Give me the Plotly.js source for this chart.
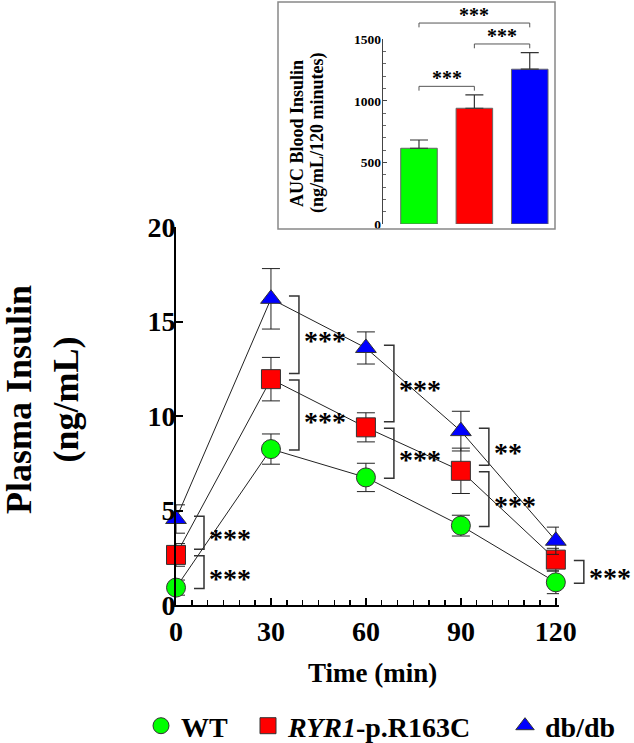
<!DOCTYPE html>
<html>
<head>
<meta charset="utf-8">
<script src="https://cdn.plot.ly/plotly-3.0.1.min.js"></script>
<style>html,body{margin:0;padding:0;background:#fff;}#chart{width:634px;height:743px;}</style>
</head>
<body>
<div id="chart"></div>
<script>
// ---------------- data ----------------
const timePoints = [0, 30, 60, 90, 120];

const wtMean   = [0.92, 8.25, 6.75, 4.2, 1.2];
const wtSem    = [0.4, 0.8, 0.75, 0.55, 0.6];
const ryr1Mean = [2.65, 11.95, 9.4, 7.1, 2.4];
const ryr1Sem  = [0.6, 1.15, 0.77, 1.2, 0.6];
const dbMean   = [4.55, 16.2, 13.6, 9.2, 3.4];
const dbSem    = [0.75, 1.6, 0.85, 1.05, 0.72];

const groupNames = ['WT', '<i>RYR1</i>-p.R163C', 'db/db'];

const aucGroups = ['WT', 'RYR1-p.R163C', 'db/db'];
const aucMean   = [615, 940, 1257];
const aucSem    = [67, 108, 135];

const xTicks = [0, 30, 60, 90, 120];
const yTicks = [0, 5, 10, 15, 20];
const aucTicks = [0, 500, 1000, 1500];

// significance comparisons (time course)
const comparisons = [
  {t: 0,   hi: 'db',   lo: 'ryr1', label: '***', pos: 'upper'},
  {t: 0,   hi: 'ryr1', lo: 'wt',   label: '***', pos: 'lower'},
  {t: 30,  hi: 'db',   lo: 'ryr1', label: '***', pos: 'upper'},
  {t: 30,  hi: 'ryr1', lo: 'wt',   label: '***', pos: 'lower'},
  {t: 60,  hi: 'db',   lo: 'ryr1', label: '***', pos: 'upper'},
  {t: 60,  hi: 'ryr1', lo: 'wt',   label: '***', pos: 'lower'},
  {t: 90,  hi: 'db',   lo: 'ryr1', label: '**',  pos: 'upper'},
  {t: 90,  hi: 'ryr1', lo: 'wt',   label: '***', pos: 'lower'},
  {t: 120, hi: 'ryr1', lo: 'wt',   label: '***', pos: 'lower'}
];
// significance comparisons (AUC inset)
const aucComparisons = [
  {a: 0, b: 1, label: '***', level: 0},
  {a: 1, b: 2, label: '***', level: 0},
  {a: 0, b: 2, label: '***', level: 1}
];

// ---------------- style ----------------
const FONT = 'Liberation Serif, Times New Roman, serif';
const GREEN = '#00ff00', RED = '#ff0000', BLUE = '#0000ff';
const W = 634, H = 743;
const mainX = [176 / W, 559 / W], mainY = [(H - 605) / H, (H - 227) / H];
const XR = [0, 121], YR = [0, 20];
const insX = [383 / W, 553 / W], insY = [(H - 224) / H, (H - 39.3) / H];
const X2R = [-0.65, 2.42], Y2R = [0, 1500];
const mainWpx = (mainX[1] - mainX[0]) * W;

const series = {
  wt: {mean: wtMean, sem: wtSem},
  ryr1: {mean: ryr1Mean, sem: ryr1Sem},
  db: {mean: dbMean, sem: dbSem}
};

function xd(t) { return (t - XR[0]) / (XR[1] - XR[0]); }
function yd(v) { return (v - YR[0]) / (YR[1] - YR[0]); }
function x2d(i) { return (i - X2R[0]) / (X2R[1] - X2R[0]); }
function y2d(v) { return (v - Y2R[0]) / (Y2R[1] - Y2R[0]); }

const markerLine = {color: '#333', width: 1};
const errStyle = {type: 'data', color: '#222', thickness: 1, width: 9};

function lineTrace(name, x, y, err, symbol, color, size) {
  return {
    type: 'scatter', mode: 'lines+markers', x: x, y: y, name: name,
    xaxis: 'x', yaxis: 'y', showlegend: false, cliponaxis: false,
    line: {color: '#222', width: 1},
    marker: {symbol: symbol, color: color, size: size, line: markerLine},
    error_y: Object.assign({array: err}, errStyle)
  };
}
function legendTrace(name, symbol, color, size, legendId) {
  return {
    type: 'scatter', mode: 'markers', x: [null], y: [null], name: name,
    xaxis: 'x', yaxis: 'y', legend: legendId, showlegend: true,
    marker: {symbol: symbol, color: color, size: size, line: markerLine}
  };
}

const traces = [
  lineTrace(groupNames[0], timePoints, wtMean, wtSem, 'circle', GREEN, 19),
  lineTrace(groupNames[1], timePoints, ryr1Mean, ryr1Sem, 'square', RED, 19),
  lineTrace(groupNames[2], timePoints, dbMean, dbSem, 'triangle-up', BLUE, 18),
  legendTrace(groupNames[0], 'circle', GREEN, 19, 'legend'),
  legendTrace(groupNames[1], 'square', RED, 19, 'legend2'),
  legendTrace(groupNames[2], 'triangle-up', BLUE, 18, 'legend3'),
  {
    type: 'bar', x: aucGroups, y: aucMean, xaxis: 'x2', yaxis: 'y2', showlegend: false,
    width: 0.66,
    marker: {color: [GREEN, RED, BLUE], line: {color: '#666', width: 1}},
    error_y: {type: 'data', symmetric: false, array: aucSem, arrayminus: aucSem.map(() => 0),
              color: '#333', thickness: 1.2, width: 9}
  }
];

// ---------------- brackets & stars ----------------
const shapes = [];
const annotations = [];
const brCol = '#333';

comparisons.forEach(c => {
  const i = timePoints.indexOf(c.t);
  const hi = series[c.hi].mean[i], lo = series[c.lo].mean[i];
  let top, bot;
  if (c.pos === 'upper') { top = hi + 0.15; bot = lo + 0.3; }
  else { top = hi - 0.05; bot = lo - 0.05; }
  const x0 = xd(c.t) + 18 / mainWpx, x1 = xd(c.t) + 28 / mainWpx;
  const y0 = yd(bot), y1 = yd(top);
  shapes.push({type: 'path', xref: 'x domain', yref: 'y domain',
    path: `M ${x0},${y1} L ${x1},${y1} L ${x1},${y0} L ${x0},${y0}`,
    line: {color: brCol, width: 1.5}});
  annotations.push({xref: 'x domain', yref: 'y domain', x: x1 + 3 / mainWpx, y: (y0 + y1) / 2,
    xanchor: 'left', yanchor: 'middle', yshift: -6, showarrow: false, text: c.label,
    font: {family: FONT, size: 28, color: '#000', weight: 'bold'}});
});

aucComparisons.forEach(c => {
  let top = 0;
  for (let k = c.a; k <= c.b; k++) top = Math.max(top, aucMean[k] + aucSem[k]);
  const yv = top + 70 + c.level * 170;
  const xa = x2d(c.a), xb = x2d(c.b);
  const yy = y2d(yv), yt = y2d(yv - 35);
  shapes.push({type: 'path', xref: 'x2 domain', yref: 'y2 domain',
    path: `M ${xa},${yt} L ${xa},${yy} L ${xb},${yy} L ${xb},${yt}`,
    line: {color: '#555', width: 1}});
  annotations.push({xref: 'x2 domain', yref: 'y2 domain', x: (xa + xb) / 2, y: yy,
    xanchor: 'center', yanchor: 'bottom', yshift: -5, showarrow: false, text: c.label,
    font: {family: FONT, size: 20, color: '#000', weight: 'bold'}});
});

// inset frame
shapes.push({type: 'rect', xref: 'paper', yref: 'paper',
  x0: 278 / W, x1: 555 / W, y0: (H - 229) / H, y1: (H - 2) / H,
  line: {color: '#888', width: 1.5}, fillcolor: 'rgba(0,0,0,0)'});

// titles as annotations
annotations.push({xref: 'paper', yref: 'paper', x: 43 / W, y: (H - 400) / H, textangle: -90,
  showarrow: false, xanchor: 'center', yanchor: 'middle', text: 'Plasma Insulin<br>(ng/mL)',
  font: {family: FONT, size: 36, color: '#000', weight: 'bold'}});
annotations.push({xref: 'paper', yref: 'paper', x: 372 / W, y: (H - 673) / H,
  showarrow: false, xanchor: 'center', yanchor: 'middle', text: 'Time (min)',
  font: {family: FONT, size: 27, color: '#000', weight: 'bold'}});
annotations.push({xref: 'paper', yref: 'paper', x: 297 / W, y: (H - 134) / H, textangle: -90,
  showarrow: false, xanchor: 'center', yanchor: 'middle', text: 'AUC Blood Insulin',
  font: {family: FONT, size: 18, color: '#000', weight: 'bold'}});
annotations.push({xref: 'paper', yref: 'paper', x: 317 / W, y: (H - 133) / H, textangle: -90,
  showarrow: false, xanchor: 'center', yanchor: 'middle', text: '(ng/mL/120 minutes)',
  font: {family: FONT, size: 18, color: '#000', weight: 'bold'}});

const legendBase = {
  yanchor: 'middle', y: (H - 726) / H, xanchor: 'left', orientation: 'h',
  bgcolor: 'rgba(0,0,0,0)', borderwidth: 0,
  font: {family: FONT, size: 28, color: '#000', weight: 'bold'}
};

const layout = {
  width: W, height: H,
  margin: {l: 0, r: 0, t: 0, b: 0, autoexpand: false},
  paper_bgcolor: '#fff', plot_bgcolor: 'rgba(0,0,0,0)',
  showlegend: true,
  legend: Object.assign({}, legendBase, {x: 141 / W}),
  legend2: Object.assign({}, legendBase, {x: 248 / W}),
  legend3: Object.assign({}, legendBase, {x: 505 / W}),
  xaxis: {
    domain: mainX, anchor: 'y', range: XR, tickvals: xTicks, ticktext: xTicks.map(String),
    ticks: 'inside', ticklen: 7, tickwidth: 2, tickcolor: '#000',
    minor: {dtick: 5, tick0: 0, ticks: 'inside', ticklen: 5, tickwidth: 1.5, tickcolor: '#000', showgrid: false},
    showline: true, linewidth: 2, linecolor: '#000', showgrid: false, zeroline: false,
    tickfont: {family: FONT, size: 28, color: '#000', weight: 'bold'}
  },
  yaxis: {
    domain: mainY, anchor: 'x', range: YR, tickvals: yTicks, ticktext: yTicks.map(String),
    ticks: 'inside', ticklen: 7, tickwidth: 2, tickcolor: '#000', ticklabelstandoff: -7,
    showline: true, linewidth: 2, linecolor: '#000', showgrid: false, zeroline: false,
    tickfont: {family: FONT, size: 28, color: '#000', weight: 'bold'}
  },
  xaxis2: {
    domain: insX, anchor: 'y2', range: X2R, type: 'category',
    showticklabels: false, ticks: '', showline: false, showgrid: false, zeroline: false
  },
  yaxis2: {
    domain: insY, anchor: 'x2', range: Y2R, tickvals: aucTicks, ticktext: aucTicks.map(String),
    ticks: 'inside', ticklen: 4, tickwidth: 1, tickcolor: '#444', ticklabelstandoff: -2,
    minor: {dtick: 100, tick0: 0, ticks: 'inside', ticklen: 3, tickwidth: 1, tickcolor: '#666', showgrid: false},
    showline: true, linewidth: 1.2, linecolor: '#444', showgrid: false, zeroline: false,
    tickfont: {family: FONT, size: 13.5, color: '#000', weight: 'bold'}
  },
  shapes: shapes,
  annotations: annotations
};

Plotly.newPlot('chart', traces, layout, {displayModeBar: false, staticPlot: true});
</script>
</body>
</html>
